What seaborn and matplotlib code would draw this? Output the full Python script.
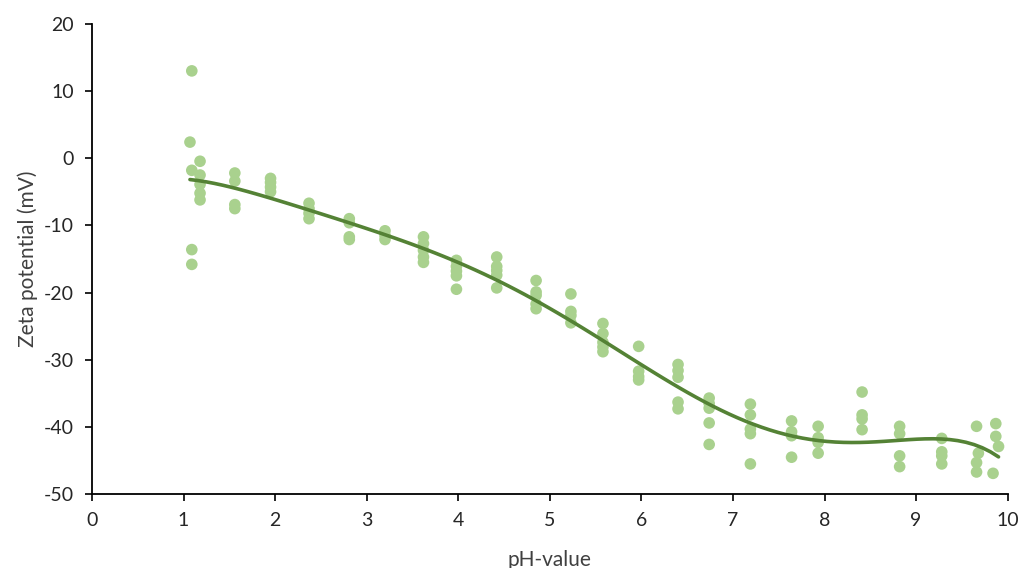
import numpy as np
import pandas as pd
import matplotlib
matplotlib.use("Agg")
import matplotlib.pyplot as plt
import seaborn as sns

# pH values and zeta potentials (mV)
ph = [1.09, 1.07, 1.18, 1.09, 1.18, 1.18, 1.18, 1.18, 1.09, 1.09,
      1.56, 1.56, 1.56, 1.56,
      1.95, 1.95, 1.95, 1.95,
      2.37, 2.37, 2.37, 2.37,
      2.81, 2.81, 2.81, 2.81,
      3.20, 3.20, 3.20,
      3.62, 3.62, 3.62, 3.62, 3.62,
      3.98, 3.98, 3.98, 3.98, 3.98,
      4.42, 4.42, 4.42, 4.42, 4.42,
      4.85, 4.85, 4.85, 4.85, 4.85,
      5.23, 5.23, 5.23, 5.23,
      5.58, 5.58, 5.58, 5.58, 5.58,
      5.97, 5.97, 5.97, 5.97,
      6.40, 6.40, 6.40, 6.40, 6.40,
      6.74, 6.74, 6.74, 6.74, 6.74,
      7.19, 7.19, 7.19, 7.19, 7.19,
      7.64, 7.64, 7.64, 7.64,
      7.93, 7.93, 7.93, 7.93,
      8.41, 8.41, 8.41, 8.41,
      8.82, 8.82, 8.82, 8.82,
      9.28, 9.28, 9.28, 9.28,
      9.66, 9.68, 9.66, 9.66,
      9.87, 9.87, 9.90, 9.84]
zeta = [13.0, 2.4, -0.45, -1.8, -2.5, -3.9, -5.2, -6.2, -13.6, -15.8,
        -2.2, -3.4, -6.9, -7.5,
        -3.0, -3.6, -4.3, -5.0,
        -6.7, -7.5, -8.2, -9.0,
        -9.0, -9.6, -11.7, -12.1,
        -10.8, -11.5, -12.1,
        -11.7, -12.7, -13.7, -14.7, -15.5,
        -15.2, -16.1, -16.8, -17.5, -19.5,
        -14.7, -16.1, -16.7, -17.4, -19.3,
        -18.2, -19.9, -20.4, -21.7, -22.4,
        -20.2, -22.8, -23.4, -24.5,
        -24.6, -26.1, -27.4, -28.1, -28.8,
        -28.0, -31.7, -32.5, -33.0,
        -30.7, -31.6, -32.6, -36.3, -37.3,
        -35.7, -36.5, -37.2, -39.4, -42.6,
        -36.6, -38.2, -40.3, -41.0, -45.5,
        -39.1, -40.7, -41.3, -44.5,
        -39.9, -41.6, -42.3, -43.9,
        -34.8, -38.2, -38.8, -40.4,
        -39.9, -41.0, -44.3, -45.9,
        -41.7, -43.7, -44.3, -45.5,
        -39.9, -43.9, -45.3, -46.7,
        -39.5, -41.4, -42.9, -46.9]

x_ticks = list(range(0, 11))
y_ticks = list(range(-50, 21, 10))

df = pd.DataFrame({"pH": ph, "zeta": zeta})

sns.set_theme(style="ticks")
plt.rcParams["font.family"] = ["Lato", "DejaVu Sans"]
plt.rcParams["axes.unicode_minus"] = False

fig = plt.figure(figsize=(10.22, 5.68), dpi=100)
ax = fig.add_axes([0.090, 0.130, 0.896, 0.828])

sns.scatterplot(data=df, x="pH", y="zeta", ax=ax, color="#A9D18E",
                s=70, edgecolor="none", zorder=2)
sns.regplot(data=df, x="pH", y="zeta", ax=ax, order=6, ci=None,
            scatter=False, line_kws={"color": "#548235", "lw": 2.6, "zorder": 3})

ax.set_xlim(0, 10)
ax.set_ylim(-50, 20)
ax.set_xticks(x_ticks)
ax.set_yticks(y_ticks)
ax.tick_params(axis="both", direction="out", length=5, width=1.2,
               labelsize=14, labelcolor="#262626", color="black", pad=8)
for side in ["top", "right"]:
    ax.spines[side].set_visible(False)
for side in ["left", "bottom"]:
    ax.spines[side].set_color("black")
    ax.spines[side].set_linewidth(1.3)

ax.set_xlabel("pH-value", fontsize=15, color="#404040", labelpad=15)
ax.set_ylabel("Zeta potential (mV)", fontsize=15, color="#404040", labelpad=4)

fig.savefig("out.png", dpi=100)
